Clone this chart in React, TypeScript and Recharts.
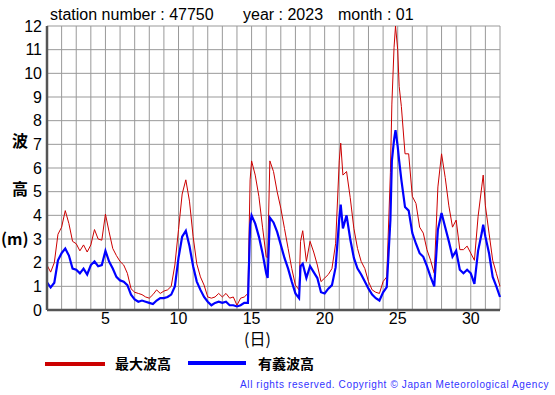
import React from "react";
import {
  LineChart,
  Line,
  XAxis,
  YAxis,
  CartesianGrid,
} from "recharts";

// day of month (1 = 00h on the 1st)
const days = [
  1.0, 1.25, 1.5, 1.75, 2.0, 2.25, 2.5, 2.75, 3.0, 3.25, 3.5, 3.75,
  4.0, 4.25, 4.5, 4.75, 5.0, 5.25, 5.5, 5.75, 6.0, 6.25, 6.5, 6.75,
  7.0, 7.25, 7.5, 7.75, 8.0, 8.25, 8.5, 8.75, 9.0, 9.25, 9.5, 9.75,
  10.0, 10.25, 10.5, 10.75, 11.0, 11.25, 11.5, 11.75, 12.0, 12.25, 12.5, 12.75,
  13.0, 13.25, 13.5, 13.75, 14.0, 14.25, 14.5, 14.75, 14.9, 15.0, 15.25, 15.5,
  15.75, 16.0, 16.1, 16.25, 16.5, 16.75, 17.0, 17.25, 17.5, 17.75, 18.0, 18.25,
  18.35, 18.5, 18.75, 19.0, 19.25, 19.5, 19.75, 20.0, 20.25, 20.5, 20.75, 21.0,
  21.1, 21.25, 21.5, 21.75, 22.0, 22.25, 22.5, 22.75, 23.0, 23.25, 23.5, 23.75,
  24.0, 24.25, 24.5, 24.6, 24.75, 24.85, 25.0, 25.1, 25.25, 25.5, 25.75, 26.0,
  26.25, 26.5, 26.75, 27.0, 27.25, 27.5, 27.75, 28.0, 28.25, 28.5, 28.75, 29.0,
  29.25, 29.5, 29.75, 30.0, 30.25, 30.5, 30.75, 30.85, 31.0, 31.25, 31.5, 31.75,
  32.0,
];

// 最大波高 (m)
const maxWave = [
  1.9, 1.6, 2.0, 3.2, 3.5, 4.2, 3.65, 2.9, 2.8, 2.5, 2.75, 2.45,
  2.75, 3.4, 3.0, 2.95, 4.05, 3.3, 2.6, 2.3, 2.05, 1.9, 1.55, 0.9,
  0.75, 0.7, 0.65, 0.55, 0.5, 0.65, 0.85, 0.7, 0.8, 0.85, 1.0, 1.9,
  3.4, 4.9, 5.5, 4.6, 3.1, 1.95, 1.4, 1.05, 0.55, 0.5, 0.55, 0.7,
  0.55, 0.7, 0.5, 0.55, 0.2, 0.5, 0.55, 0.7, 5.5, 6.3, 5.7, 4.8,
  3.5, 2.25, 2.2, 6.3, 5.85, 5.0, 4.3, 3.45, 2.6, 1.75, 1.05, 0.85,
  2.9, 3.35, 2.05, 2.9, 2.45, 1.9, 1.2, 1.35, 1.5, 1.75, 2.8, 6.3,
  7.05, 5.7, 5.85, 4.75, 3.45, 2.6, 2.05, 1.75, 1.2, 0.85, 0.75, 0.7,
  1.2, 1.4, 5.8, 8.7, 11.1, 12.0, 11.0, 9.45, 8.6, 6.6, 6.6, 4.8,
  4.5, 3.5, 3.25, 2.55, 2.1, 1.55, 5.2, 6.6, 5.6, 4.4, 3.5, 3.8,
  2.55, 2.55, 2.7, 2.4, 2.1, 3.95, 5.2, 5.7, 4.4, 3.25, 2.1, 1.55,
  1.0,
];

// 有義波高 (m)
const sigWave = [
  1.17, 0.95, 1.15, 2.1, 2.4, 2.6, 2.3, 1.75, 1.7, 1.55, 1.75, 1.5,
  1.9, 2.05, 1.85, 1.9, 2.5, 2.05, 1.75, 1.4, 1.25, 1.2, 1.05, 0.65,
  0.45, 0.35, 0.4, 0.35, 0.3, 0.25, 0.4, 0.5, 0.5, 0.55, 0.65, 1.0,
  2.2, 3.1, 3.35, 2.7, 1.85, 1.2, 0.85, 0.55, 0.35, 0.2, 0.3, 0.35,
  0.3, 0.35, 0.2, 0.2, 0.15, 0.2, 0.3, 0.3, 3.6, 4.0, 3.65, 3.1,
  2.4, 1.55, 1.35, 3.9, 3.7, 3.3, 2.75, 2.2, 1.75, 1.2, 0.7, 0.5,
  1.85, 1.95, 1.35, 1.85, 1.6, 1.35, 0.75, 0.7, 0.9, 1.05, 1.8, 3.85,
  4.45, 3.45, 4.0, 3.0, 2.2, 1.75, 1.5, 1.2, 0.9, 0.65, 0.5, 0.4,
  0.75, 0.97, 3.8, 6.3, 7.2, 7.6, 6.9, 6.3, 5.5, 4.35, 4.2, 3.25,
  2.8, 2.4, 2.25, 1.85, 1.4, 1.0, 3.4, 4.1, 3.5, 2.9, 2.25, 2.5,
  1.7, 1.55, 1.7, 1.55, 1.1, 2.5, 3.25, 3.6, 3.1, 2.4, 1.4, 1.0,
  0.55,
];

const dayTicks = Array.from({ length: 32 }, (_, i) => i + 1);
const heightTicks = [0, 1, 2, 3, 4, 5, 6, 7, 8, 9, 10, 11, 12];

const data = days.map((d, i) => ({ day: d, max: maxWave[i], sig: sigWave[i] }));

const FONT = "'Liberation Sans', Arial, Helvetica, sans-serif";
const JP = "'Noto Sans CJK JP', sans-serif";

const abs = (left: number, top: number, extra: React.CSSProperties = {}): React.CSSProperties => ({
  position: "absolute",
  left,
  top,
  whiteSpace: "nowrap",
  lineHeight: 1,
  ...extra,
});

export default function App() {
  return (
    <div style={{ position: "absolute", left: 0, top: 0, width: 555, height: 395, background: "#fff" }}>
      <LineChart
        width={555}
        height={395}
        data={data}
        margin={{ top: 26, right: 55, left: 0, bottom: 0 }}
      >
        <CartesianGrid stroke="#999" strokeWidth={1} />
        <XAxis
          dataKey="day"
          type="number"
          domain={[1, 32]}
          ticks={dayTicks}
          interval={0}
          tickFormatter={(d: number) => (d % 5 === 0 && d < 32 ? String(d) : "")}
          height={85}
          tickLine={false}
          tickSize={0}
          tickMargin={3}
          axisLine={{ stroke: "#555", strokeWidth: 2.5 }}
          tick={{ fill: "#000", fontSize: 16, fontFamily: FONT }}
        />
        <XAxis
          xAxisId="top"
          orientation="top"
          type="number"
          domain={[1, 32]}
          height={0}
          tick={false}
          tickLine={false}
          axisLine={{ stroke: "#000", strokeWidth: 1.5 }}
        />
        <YAxis
          type="number"
          domain={[0, 12]}
          ticks={heightTicks}
          interval={0}
          width={47}
          tickLine={false}
          tickSize={0}
          tickMargin={5}
          axisLine={{ stroke: "#555", strokeWidth: 2.5 }}
          tick={{ fill: "#000", fontSize: 16, fontFamily: FONT }}
        />
        <YAxis
          yAxisId="right"
          orientation="right"
          type="number"
          domain={[0, 12]}
          width={0}
          tick={false}
          tickLine={false}
          axisLine={{ stroke: "#000", strokeWidth: 1.5 }}
        />
        <Line
          type="linear"
          dataKey="max"
          stroke="#cc0000"
          strokeWidth={1}
          dot={false}
          isAnimationActive={false}
        />
        <Line
          type="linear"
          dataKey="sig"
          stroke="#0000ff"
          strokeWidth={2.2}
          dot={false}
          isAnimationActive={false}
        />
      </LineChart>

      {/* title */}
      <div style={abs(50, 7, { fontFamily: FONT, fontSize: 16 })}>station number : 47750</div>
      <div style={abs(243, 7, { fontFamily: FONT, fontSize: 16 })}>year : 2023</div>
      <div style={abs(338, 7, { fontFamily: FONT, fontSize: 16 })}>month : 01</div>

      {/* y axis label */}
      <div style={abs(12, 132, { fontFamily: JP, fontSize: 16, fontWeight: 700 })}>波</div>
      <div style={abs(12, 180, { fontFamily: JP, fontSize: 16, fontWeight: 700 })}>高</div>
      <div style={abs(1, 230, { fontFamily: JP, fontSize: 16, fontWeight: 700 })}>(m)</div>

      {/* x axis label */}
      <div style={abs(244, 330, { fontFamily: JP, fontSize: 16 })}>(日)</div>

      {/* legend */}
      <div style={abs(45, 362, { width: 60, height: 4, background: "#cc0000" })} />
      <div style={abs(115, 356, { fontFamily: JP, fontSize: 14, fontWeight: 700 })}>最大波高</div>
      <div style={abs(188, 361, { width: 58, height: 4, background: "#0000ff" })} />
      <div style={abs(258, 356, { fontFamily: JP, fontSize: 14, fontWeight: 700 })}>有義波高</div>

      <div style={abs(240, 380, { fontFamily: FONT, fontSize: 10, color: "#3333ff", letterSpacing: 0.62 })}>
        All rights reserved. Copyright © Japan Meteorological Agency
      </div>
    </div>
  );
}
